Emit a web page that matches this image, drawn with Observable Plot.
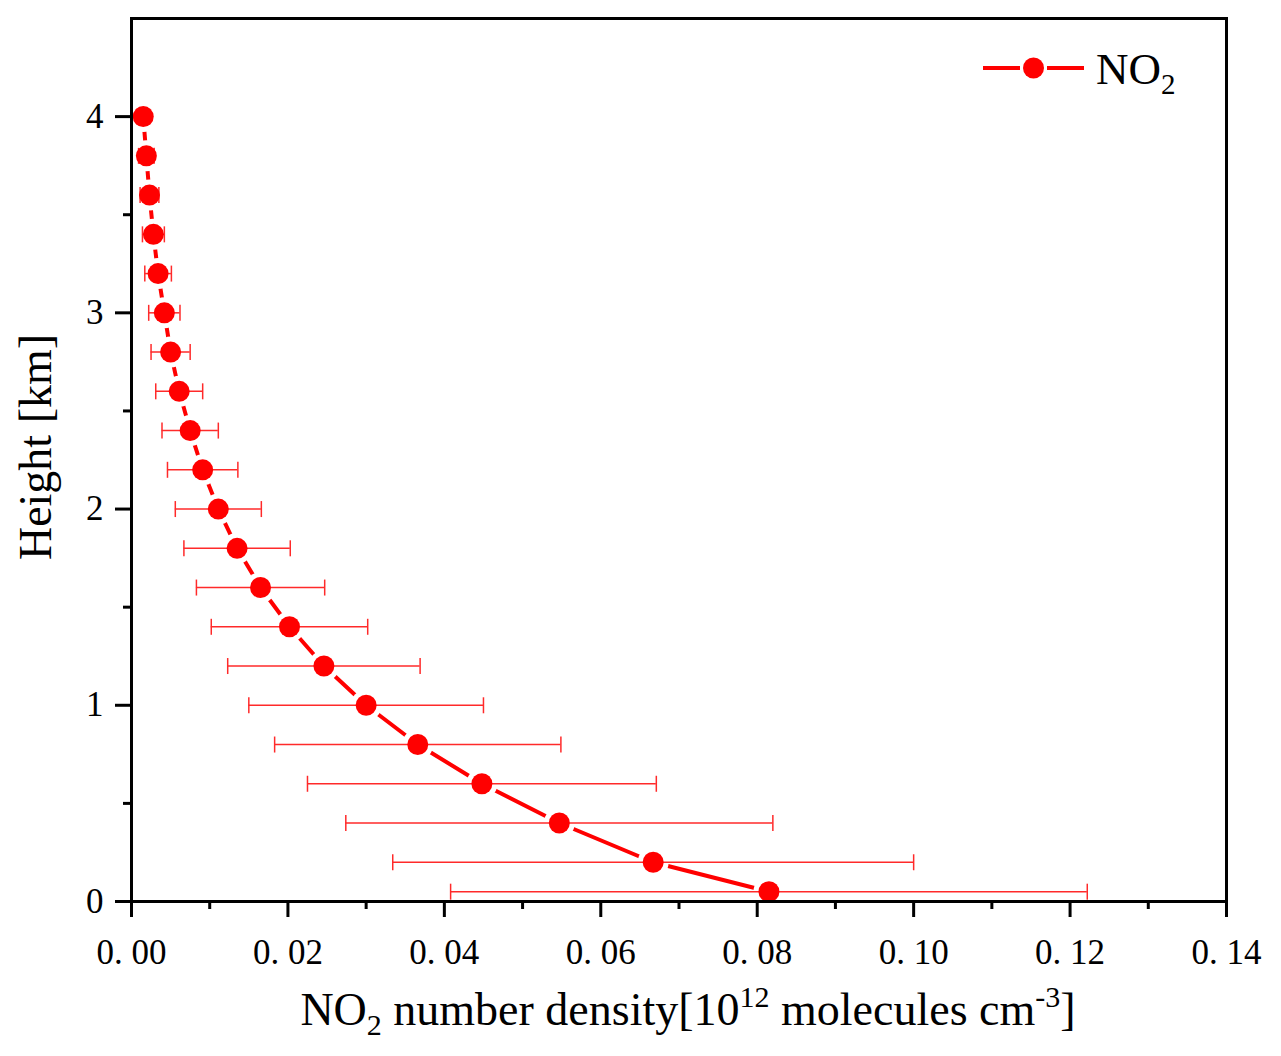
<!DOCTYPE html>
<html><head><meta charset="utf-8">
<script src="https://cdn.jsdelivr.net/npm/d3@7"></script>
<script src="https://cdn.jsdelivr.net/npm/@observablehq/plot@0.6"></script>
<style>body{margin:0;background:#fff} svg{display:block}</style>
</head><body><div id="chart"></div>
<script>
const heights = [4.0,3.8,3.6,3.4,3.2,3.0,2.8,2.6,2.4,2.2,2.0,1.8,1.6,1.4,1.2,1.0,0.8,0.6,0.4,0.2,0.05];
const density = [0.0015,0.0019,0.0023,0.0028,0.0034,0.0042,0.0050,0.0061,0.0075,0.0091,0.0111,0.0135,0.0165,0.0202,0.0246,0.0300,0.0366,0.0448,0.0547,0.0667,0.0815];
const errors = [0.0008,0.0010,0.0012,0.0014,0.0017,0.0020,0.0025,0.0030,0.0036,0.0045,0.0055,0.0068,0.0082,0.0100,0.0123,0.0150,0.0183,0.0223,0.0273,0.0333,0.0407];
const xMajorTicks = [0,0.02,0.04,0.06,0.08,0.10,0.12,0.14];
const xMinorTicks = [0.01,0.03,0.05,0.07,0.09,0.11,0.13];
const yMajorTicks = [0,1,2,3,4];
const yMinorTicks = [0.5,1.5,2.5,3.5];
const seriesName = "NO";
const seriesSub = "2";

const data = heights.map((h, i) => ({h, v: density[i], e: errors[i]}));
const capSymbol = {draw(ctx) { ctx.moveTo(0, -8); ctx.lineTo(0, 8); }};
const fmtX = d => d3.format(".2f")(d).replace(".", ". ");
const RED = "#ff0000", ERR = "#ff2a2a";

const chart = Plot.plot({
  width: 1281, height: 1056,
  marginLeft: 131, marginRight: 55, marginTop: 18, marginBottom: 155,
  style: {fontFamily: "'Liberation Serif', 'Times New Roman', serif", fontSize: "34px", color: "black", background: "white"},
  x: {domain: [0, 0.14], label: null},
  y: {domain: [0, 4.5], label: null},
  marks: [
    Plot.line(data, {x: "v", y: "h", stroke: RED, strokeWidth: 4}),
    Plot.dot(data, {x: "v", y: "h", r: 15.5, fill: "white", stroke: null, clip: true}),
    Plot.ruleY(data, {y: "h", x1: d => d.v - d.e, x2: d => d.v + d.e, stroke: ERR, strokeWidth: 1.5}),
    Plot.dot(data, {x: d => d.v - d.e, y: "h", symbol: capSymbol, stroke: ERR, strokeWidth: 1.5, fill: "none"}),
    Plot.dot(data, {x: d => d.v + d.e, y: "h", symbol: capSymbol, stroke: ERR, strokeWidth: 1.5, fill: "none"}),
    Plot.dot(data, {x: "v", y: "h", r: 10.5, fill: RED, stroke: null, clip: true}),
    Plot.axisX({ticks: xMinorTicks, tickSize: 8, tickFormat: () => "", strokeWidth: 3, label: null}),
    Plot.axisX({ticks: xMajorTicks, tickSize: 16, tickPadding: 22, tickFormat: fmtX, strokeWidth: 3, fontSize: 35, label: null}),
    Plot.axisY({ticks: yMinorTicks, tickSize: 8, tickFormat: () => "", strokeWidth: 3, label: null}),
    Plot.axisY({ticks: yMajorTicks, tickSize: 16, tickPadding: 12, tickFormat: d3.format("d"), strokeWidth: 3, fontSize: 35, label: null}),
    Plot.frame({stroke: "black", strokeWidth: 3})
  ]
});
document.getElementById("chart").appendChild(chart);

const svg = d3.select(chart);
const font = "'Liberation Serif', 'Times New Roman', serif";

// x axis title
const xt = svg.append("text").attr("x", 688).attr("y", 1025).attr("text-anchor", "middle")
  .style("font-family", font).style("font-size", "46px").attr("fill", "black");
xt.append("tspan").text("NO");
xt.append("tspan").attr("dy", 10).style("font-size", "30px").text("2");
xt.append("tspan").attr("dy", -10).text(" number density[10");
xt.append("tspan").attr("dy", -18).style("font-size", "30px").text("12");
xt.append("tspan").attr("dy", 18).text(" molecules cm");
xt.append("tspan").attr("dy", -18).style("font-size", "30px").text("-3");
xt.append("tspan").attr("dy", 18).text("]");

// y axis title
svg.append("text").attr("transform", "translate(51,447) rotate(-90)").attr("text-anchor", "middle")
  .style("font-family", font).style("font-size", "46px").attr("fill", "black").text("Height [km]");

// legend
const lg = svg.append("g");
lg.append("line").attr("x1", 983).attr("x2", 1020).attr("y1", 68).attr("y2", 68).attr("stroke", RED).attr("stroke-width", 4);
lg.append("line").attr("x1", 1047).attr("x2", 1084).attr("y1", 68).attr("y2", 68).attr("stroke", RED).attr("stroke-width", 4);
lg.append("circle").attr("cx", 1033.5).attr("cy", 68).attr("r", 10.5).attr("fill", RED);
const lt = lg.append("text").attr("x", 1096).attr("y", 84).attr("text-anchor", "start")
  .style("font-family", font).style("font-size", "45px").attr("fill", "black");
lt.append("tspan").text(seriesName);
lt.append("tspan").attr("dy", 10).style("font-size", "29px").text(seriesSub);
</script>
</body></html>
